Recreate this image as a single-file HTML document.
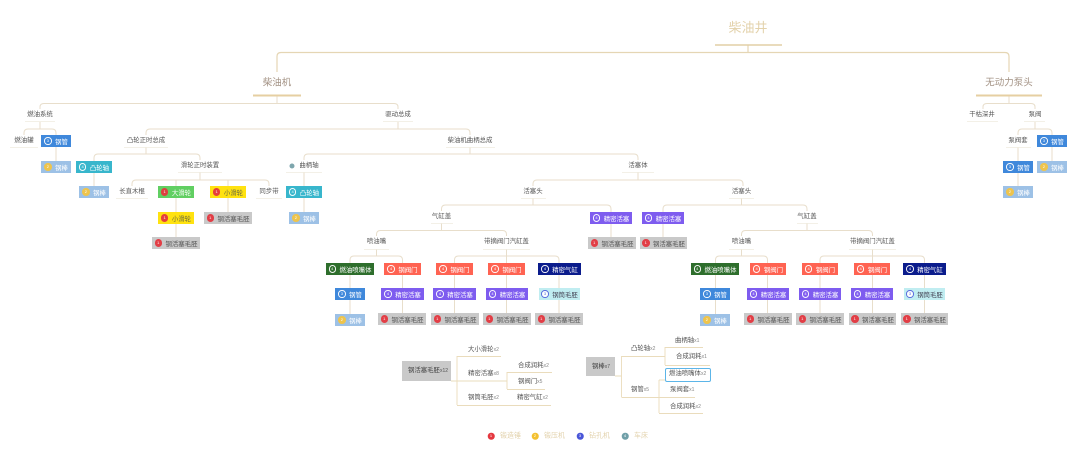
<!DOCTYPE html>
<html lang="zh">
<head>
<meta charset="utf-8">
<title>柴油井</title>
<style>
html,body{margin:0;padding:0;background:#fff}
#c{position:relative;width:1080px;height:459px;overflow:hidden;background:#fff;font-family:"Liberation Sans","Noto Sans CJK SC",sans-serif;filter:blur(.3px)}
svg{position:absolute;left:0;top:0}
.l{position:absolute;transform:translate(-50%,-50%);font-size:6.400px;line-height:8px;color:#555;white-space:nowrap}
.t{position:absolute;transform:translate(-50%,-50%);white-space:nowrap;line-height:1.2}
.b{position:absolute;height:12px;display:flex;align-items:center;justify-content:center;font-size:6.400px;color:#fff;white-space:nowrap;gap:3.500px}
.b i{font-style:normal;display:block;width:5.500px;height:5.500px;line-height:5.500px;border:.8px solid #fff;border-radius:50%;font-size:4px;text-align:center;opacity:.95;flex:none}
.blu{background:#3f88db}.lb{background:#9dc1e6}.lb i{background:#f3c545;border-color:#f3c545;color:#fff}
.tl{background:#38b6cc}.gn{background:#61cf62}.ye{background:#ffe210;color:#664}.gr{background:#c9c9c9;color:#555}
.pu{background:#7e5cef}.rd{background:#ff6352}.dg{background:#2e6e2c}.nv{background:#0b1c8c}.cy{background:#c0edf1;color:#445}
.gn i,.ye i,.gr i{background:#e4373f;border-color:#e4373f;color:#fff}
.cy i{background:#fff;border-color:#5566dd;color:#5566dd}
.s{position:absolute;transform:translate(0,-50%);font-size:6.400px;line-height:8px;color:#555;white-space:nowrap}
.s small{font-size:5px;color:#888}
.d{position:absolute;width:6.500px;height:6.500px;border-radius:50%;transform:translate(-50%,-50%);color:#fff;font-size:4px;line-height:6.500px;text-align:center}
.k{position:absolute;transform:translate(0,-50%);font-size:7px;line-height:9px;color:#e3d3ae;white-space:nowrap}
</style>
</head>
<body>
<div id="c">
<svg width="1080" height="459" viewBox="0 0 1080 459" fill="none">
<g stroke="#e5d6b4" stroke-width="1.200">
<path d="M748 45V52.500M277 72V56.500Q277 52.500 281 52.500H1005Q1009 52.500 1009 56.500V72"/>
</g>
<g stroke="#e8decb" stroke-width="1">
<path d="M277 96V103.500M40 109V107Q40 103.500 44 103.500H394Q398 103.500 398 107V109"/>
<path d="M1009 96V103.500M983 109V107Q983 103.500 987 103.500H1031Q1035 103.500 1035 107V109"/>
<path d="M40 122V129M24 135V133Q24 129 28 129H52Q56 129 56 133V161"/>
<path d="M398 122V129M146 135V133Q146 129 150 129H466Q470 129 470 133V135"/>
<path d="M146 147V154M94 161V158Q94 154 98 154H196Q200 154 200 158V160M94 173V186"/>
<path d="M200 172V180M132 186V184Q132 180 136 180H265Q269 180 269 184V186M176 180V186M228 180V186"/>
<path d="M176 198V237M228 198V212"/>
<path d="M470 147V154M304 160V158Q304 154 308 154H634Q638 154 638 158V160"/>
<path d="M304 172V186M304 198V212"/>
<path d="M638 172V180M533 186V184Q533 180 537 180H739Q743 180 743 184V186"/>
<path d="M533 198V205M441.500 211V209Q441.500 205 445.500 205H607Q611 205 611 209V212M611 223V237"/>
<path d="M441.500 223V230.500M376.500 236V234.500Q376.500 230.500 380.500 230.500H502.500Q506.500 230.500 506.500 234.500V236"/>
<path d="M376.500 249V256M350 263V260Q350 256 354 256H398.500Q402.500 256 402.500 260V263"/>
<path d="M506.500 249V263M454.500 263V260Q454.500 256 458.500 256H555Q559 256 559 260V263"/>
<path d="M350 274V314M402.500 274V313M454.500 274V313M506.500 274V313M559 274V313"/>
<path d="M741.500 198V205M663 212V209Q663 205 667 205H803Q807 205 807 209V211M663 223V237"/>
<path d="M807 223V230.500M741.500 236V234.500Q741.500 230.500 745.500 230.500H868.500Q872.500 230.500 872.500 234.500V236"/>
<path d="M741.500 249V256M715.500 263V260Q715.500 256 719.500 256H763.500Q767.500 256 767.500 260V263"/>
<path d="M872.500 249V263M820 263V260Q820 256 824 256H920.500Q924.500 256 924.500 260V263"/>
<path d="M715.500 274V314M767.500 274V313M820 274V313M872.500 274V313M924.500 274V313"/>
<path d="M1035 122V129M1018 135V133Q1018 129 1022 129H1048Q1052 129 1052 133V135"/>
<path d="M1018 147V161M1018 173V186M1052 147V161"/>
</g>
<g stroke="#f0ebdf" stroke-width=".8">
<path d="M25 121.500H55M10 147.500H38M383 121.500H413M124 147.500H168M446 147.500H495M178 172.500H222M116 198.500H148M256 198.500H282"/>
<path d="M286 172.500H322M622 172.500H654M521 198.500H546M729 198.500H754M431 223.500H453M797 223.500H818"/>
<path d="M364 249.500H389M483 249.500H530M729 249.500H754M849 249.500H896M967 121.500H998M1024 121.500H1045M1006 147.500H1031"/>
</g>
<path d="M715 45H782" stroke="#e2cfa5" stroke-width="1.500"/>
<path d="M253 95.500H301M976 95.500H1042" stroke="#e6cfa2" stroke-width="2"/>
<path d="M451 381H507M457 356V405M457 356.500H501M507 372V389M507 372.500H552M507 389.500H545M457 405.500H551" stroke="#eadcbc" stroke-width=".9"/>
<path d="M615 376H621.500M621.500 356V397M621.500 356.500H665M665 347V365M665 347.500H703M665 365.500H710M621.500 397.500H695M659 380V413M659 380H665M659 413.500H703" stroke="#eadcbc" stroke-width=".9"/>
<rect x="665.500" y="368.500" width="45" height="13" rx="1.500" fill="#fff" stroke="#5cb5e8" stroke-width="1"/>
<rect x="402" y="361" width="49" height="20" fill="#c9c9c9"/>
<rect x="586" y="357" width="29" height="19" fill="#c9c9c9"/>
</svg>

<div class="t" style="left:748px;top:28px;font-size:13px;color:#e3d2ab">柴油井</div>
<div class="t" style="left:277px;top:83px;font-size:9.500px;color:#a39284">柴油机</div>
<div class="t" style="left:1009px;top:83px;font-size:9.500px;color:#a39284">无动力泵头</div>

<div class="l" style="left:40px;top:115px">燃油系统</div>
<div class="l" style="left:398px;top:115px">驱动总成</div>
<div class="l" style="left:24px;top:141px">燃油罐</div>
<div class="l" style="left:146px;top:141px">凸轮正时总成</div>
<div class="l" style="left:470px;top:141px">柴油机曲柄总成</div>
<div class="l" style="left:200px;top:166px">滑轮正时装置</div>
<div class="l" style="left:132px;top:192px">长直木棍</div>
<div class="l" style="left:269px;top:192px">同步带</div>
<div class="l" style="left:309px;top:166px">曲柄轴</div>
<div class="d" style="left:292px;top:166px;background:#7ea6ad;width:5px;height:5px"></div>
<div class="l" style="left:638px;top:166px">活塞体</div>
<div class="l" style="left:533px;top:192px">活塞头</div>
<div class="l" style="left:741.500px;top:192px">活塞头</div>
<div class="l" style="left:441.500px;top:217px">气缸盖</div>
<div class="l" style="left:807px;top:217px">气缸盖</div>
<div class="l" style="left:376.500px;top:242px">喷油嘴</div>
<div class="l" style="left:506.500px;top:242px">带摘阀门汽缸盖</div>
<div class="l" style="left:741.500px;top:242px">喷油嘴</div>
<div class="l" style="left:872.500px;top:242px">带摘阀门汽缸盖</div>
<div class="l" style="left:982px;top:115px">干枯深井</div>
<div class="l" style="left:1035px;top:115px">泵阀</div>
<div class="l" style="left:1018px;top:141px">泵阀套</div>

<div class="b blu" style="left:41px;top:135px;width:30px"><i>3</i>钢管</div>
<div class="b lb" style="left:41px;top:161px;width:30px"><i>2</i>钢棒</div>
<div class="b tl" style="left:76px;top:161px;width:36px"><i>4</i>凸轮轴</div>
<div class="b lb" style="left:79px;top:186px;width:30px"><i>2</i>钢棒</div>
<div class="b gn" style="left:158px;top:186px;width:36px"><i>1</i>大滑轮</div>
<div class="b ye" style="left:210px;top:186px;width:36px"><i>1</i>小滑轮</div>
<div class="b ye" style="left:158px;top:212px;width:36px"><i>1</i>小滑轮</div>
<div class="b gr" style="left:204px;top:212px;width:48px"><i>1</i>钢活塞毛胚</div>
<div class="b gr" style="left:152px;top:237px;width:48px"><i>1</i>钢活塞毛胚</div>
<div class="b tl" style="left:286px;top:186px;width:36px"><i>4</i>凸轮轴</div>
<div class="b lb" style="left:289px;top:212px;width:30px"><i>2</i>钢棒</div>

<div class="b pu" style="left:590px;top:212px;width:42px"><i>4</i>精密活塞</div>
<div class="b gr" style="left:588px;top:237px;width:48px"><i>1</i>钢活塞毛胚</div>
<div class="b pu" style="left:642px;top:212px;width:42px"><i>4</i>精密活塞</div>
<div class="b gr" style="left:640px;top:237px;width:47px"><i>1</i>钢活塞毛胚</div>

<div class="b dg" style="left:326px;top:263px;width:48px"><i>4</i>燃油喷嘴体</div>
<div class="b rd" style="left:384px;top:263px;width:37px"><i>4</i>钢阀门</div>
<div class="b rd" style="left:436px;top:263px;width:37px"><i>4</i>钢阀门</div>
<div class="b rd" style="left:488px;top:263px;width:37px"><i>4</i>钢阀门</div>
<div class="b nv" style="left:538px;top:263px;width:43px"><i>4</i>精密气缸</div>
<div class="b blu" style="left:335px;top:288px;width:30px"><i>3</i>钢管</div>
<div class="b pu" style="left:381px;top:288px;width:43px"><i>4</i>精密活塞</div>
<div class="b pu" style="left:433px;top:288px;width:43px"><i>4</i>精密活塞</div>
<div class="b pu" style="left:486px;top:288px;width:42px"><i>4</i>精密活塞</div>
<div class="b cy" style="left:539px;top:288px;width:41px"><i>3</i>钢筒毛胚</div>
<div class="b lb" style="left:335px;top:314px;width:30px"><i>2</i>钢棒</div>
<div class="b gr" style="left:378px;top:313px;width:48px"><i>1</i>钢活塞毛胚</div>
<div class="b gr" style="left:431px;top:313px;width:48px"><i>1</i>钢活塞毛胚</div>
<div class="b gr" style="left:483px;top:313px;width:48px"><i>1</i>钢活塞毛胚</div>
<div class="b gr" style="left:535px;top:313px;width:48px"><i>1</i>钢活塞毛胚</div>

<div class="b dg" style="left:691px;top:263px;width:48px"><i>4</i>燃油喷嘴体</div>
<div class="b rd" style="left:750px;top:263px;width:36px"><i>4</i>钢阀门</div>
<div class="b rd" style="left:802px;top:263px;width:36px"><i>4</i>钢阀门</div>
<div class="b rd" style="left:854px;top:263px;width:36px"><i>4</i>钢阀门</div>
<div class="b nv" style="left:903px;top:263px;width:43px"><i>4</i>精密气缸</div>
<div class="b blu" style="left:700px;top:288px;width:30px"><i>3</i>钢管</div>
<div class="b pu" style="left:747px;top:288px;width:42px"><i>4</i>精密活塞</div>
<div class="b pu" style="left:799px;top:288px;width:42px"><i>4</i>精密活塞</div>
<div class="b pu" style="left:851px;top:288px;width:42px"><i>4</i>精密活塞</div>
<div class="b cy" style="left:904px;top:288px;width:41px"><i>3</i>钢筒毛胚</div>
<div class="b lb" style="left:700px;top:314px;width:30px"><i>2</i>钢棒</div>
<div class="b gr" style="left:744px;top:313px;width:48px"><i>1</i>钢活塞毛胚</div>
<div class="b gr" style="left:796px;top:313px;width:48px"><i>1</i>钢活塞毛胚</div>
<div class="b gr" style="left:849px;top:313px;width:47px"><i>1</i>钢活塞毛胚</div>
<div class="b gr" style="left:901px;top:313px;width:47px"><i>1</i>钢活塞毛胚</div>

<div class="b blu" style="left:1037px;top:135px;width:30px"><i>3</i>钢管</div>
<div class="b blu" style="left:1003px;top:161px;width:30px"><i>3</i>钢管</div>
<div class="b lb" style="left:1037px;top:161px;width:30px"><i>2</i>钢棒</div>
<div class="b lb" style="left:1003px;top:186px;width:30px"><i>2</i>钢棒</div>

<div class="s" style="left:408px;top:371px;color:#444">钢活塞毛胚<small style="color:#555">x12</small></div>
<div class="s" style="left:468px;top:350px">大小滑轮<small>x2</small></div>
<div class="s" style="left:468px;top:374px">精密活塞<small>x8</small></div>
<div class="s" style="left:468px;top:398px">钢筒毛胚<small>x2</small></div>
<div class="s" style="left:518px;top:366px">合成润耗<small>x2</small></div>
<div class="s" style="left:518px;top:382px">钢阀门<small>x5</small></div>
<div class="s" style="left:517px;top:398px">精密气缸<small>x2</small></div>

<div class="s" style="left:592px;top:367px;color:#444">钢棒<small style="color:#555">x7</small></div>
<div class="s" style="left:631px;top:349px">凸轮轴<small>x2</small></div>
<div class="s" style="left:631px;top:390px">钢管<small>x5</small></div>
<div class="s" style="left:675px;top:341px">曲柄轴<small>x1</small></div>
<div class="s" style="left:676px;top:357px">合成润耗<small>x1</small></div>
<div class="s" style="left:669px;top:374px">燃油喷嘴体<small>x2</small></div>
<div class="s" style="left:670px;top:390px">泵阀套<small>x1</small></div>
<div class="s" style="left:670px;top:407px">合成润耗<small>x2</small></div>

<div class="d" style="left:491px;top:436px;background:#e4373f">1</div>
<div class="k" style="left:500px;top:436px">锻造锤</div>
<div class="d" style="left:535px;top:436px;background:#f3c02f">2</div>
<div class="k" style="left:544px;top:436px">锻压机</div>
<div class="d" style="left:580px;top:436px;background:#4a56d8">3</div>
<div class="k" style="left:589px;top:436px">钻孔机</div>
<div class="d" style="left:625px;top:436px;background:#6f9fa8">4</div>
<div class="k" style="left:634px;top:436px">车床</div>
</div>
</body>
</html>
